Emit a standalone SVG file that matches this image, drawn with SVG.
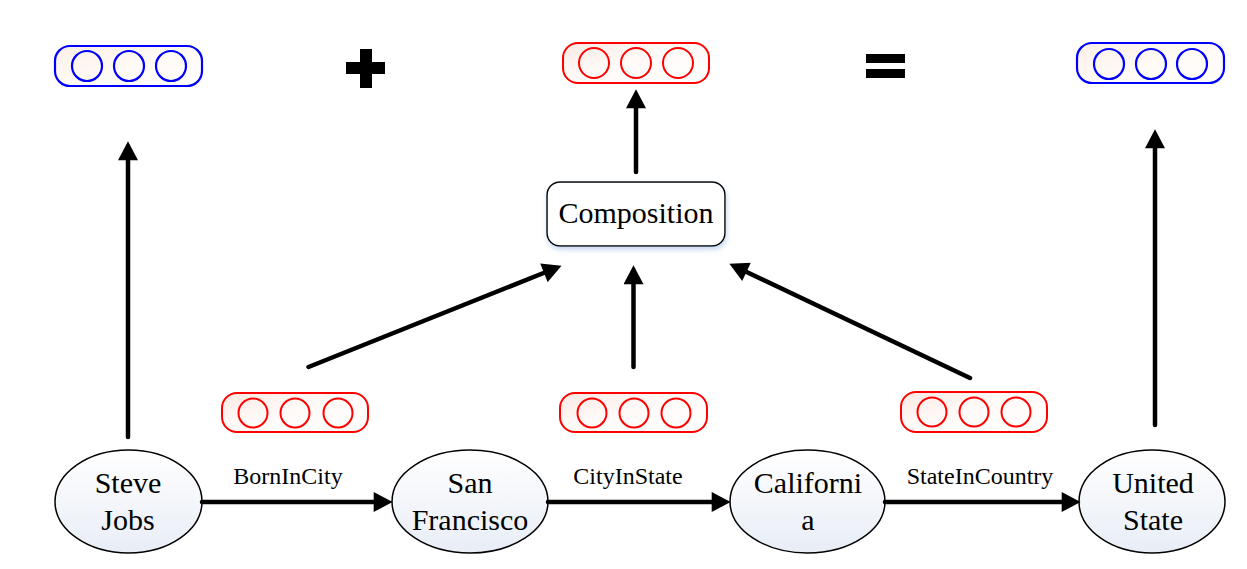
<svg xmlns="http://www.w3.org/2000/svg" width="1247" height="569" viewBox="0 0 1247 569">
<defs>
  <linearGradient id="gBox" x1="0" y1="0" x2="1" y2="1">
    <stop offset="0" stop-color="#fbe9e3"/>
    <stop offset="0.45" stop-color="#fffaf8"/>
    <stop offset="1" stop-color="#ffffff"/>
  </linearGradient>
  <linearGradient id="gBlue" x1="0" y1="0" x2="1" y2="1">
    <stop offset="0" stop-color="#fbefe6"/>
    <stop offset="0.5" stop-color="#fffaf5"/>
    <stop offset="1" stop-color="#ffffff"/>
  </linearGradient>
  <linearGradient id="gEll" x1="0" y1="0" x2="0" y2="1">
    <stop offset="0" stop-color="#ffffff"/>
    <stop offset="1" stop-color="#e8edf6"/>
  </linearGradient>
  <filter id="shadow" x="-10%" y="-10%" width="125%" height="140%">
    <feDropShadow dx="1" dy="3" stdDeviation="2.5" flood-color="#8fb0e0" flood-opacity="0.5"/>
  </filter>
  <marker id="arr" markerUnits="userSpaceOnUse" markerWidth="20" markerHeight="20" viewBox="0 0 18 19" refX="6" refY="9.5" orient="auto">
    <path d="M0,0 L18,9.5 L0,19 z" fill="#000"/>
  </marker>
</defs>
<style>
  .blue { fill: url(#gBlue); stroke: #0000ff; stroke-width: 2.2; }
  .red { fill: url(#gBox); stroke: #ff0000; stroke-width: 2; }
  .redc { fill: none; stroke: #ff0000; stroke-width: 2; }
  .bluec { fill: none; stroke: #0000ff; stroke-width: 2.2; }
  .ell { fill: url(#gEll); stroke: #000; stroke-width: 1.5; }
  .lbl { font-family: "Liberation Serif", "Times New Roman", serif; font-size: 30px; fill: #000; text-anchor: middle; }
  .elbl { font-family: "Liberation Serif", "Times New Roman", serif; font-size: 24px; fill: #000; text-anchor: middle; }
  .edge { stroke: #000; stroke-width: 4.5; stroke-linecap: round; fill: none; marker-end: url(#arr); }
</style>

<!-- top vectors -->
<g id="vec-top-left">
  <rect class="blue" x="55" y="46" width="147" height="40" rx="15"/>
  <circle class="bluec" cx="87" cy="66" r="15"/>
  <circle class="bluec" cx="129" cy="66" r="15"/>
  <circle class="bluec" cx="171" cy="66" r="15"/>
</g>
<g id="plus">
  <rect x="346" y="62" width="39" height="12" fill="#000"/>
  <rect x="360" y="49" width="12" height="39" fill="#000"/>
</g>
<g id="vec-top-mid">
  <rect class="red" x="563" y="43" width="146" height="40" rx="15"/>
  <circle class="redc" cx="594" cy="63" r="15"/>
  <circle class="redc" cx="636" cy="63" r="15"/>
  <circle class="redc" cx="678" cy="63" r="15"/>
</g>
<g id="equals">
  <rect x="866" y="54" width="39" height="9" fill="#000"/>
  <rect x="866" y="69" width="39" height="9" fill="#000"/>
</g>
<g id="vec-top-right">
  <rect class="blue" x="1077" y="43" width="147" height="40" rx="15"/>
  <circle class="bluec" cx="1109" cy="64" r="15"/>
  <circle class="bluec" cx="1151" cy="64" r="15"/>
  <circle class="bluec" cx="1192" cy="64" r="15"/>
</g>

<!-- composition -->
<g id="composition">
  <rect x="547" y="182" width="178" height="64" rx="13" fill="#ffffff" stroke="#000" stroke-width="1.5" filter="url(#shadow)"/>
  <text class="lbl" font-family="Liberation Serif, serif" x="636" y="223">Composition</text>
</g>

<!-- relation vectors -->
<g id="vec-rel-1">
  <rect class="red" x="222" y="393" width="146" height="39" rx="15"/>
  <circle class="redc" cx="253" cy="413" r="14.5"/>
  <circle class="redc" cx="295" cy="413" r="14.5"/>
  <circle class="redc" cx="338" cy="413" r="14.5"/>
</g>
<g id="vec-rel-2">
  <rect class="red" x="560" y="393" width="147" height="39" rx="15"/>
  <circle class="redc" cx="592" cy="413" r="14.5"/>
  <circle class="redc" cx="634" cy="413" r="14.5"/>
  <circle class="redc" cx="676" cy="413" r="14.5"/>
</g>
<g id="vec-rel-3">
  <rect class="red" x="901" y="392" width="146" height="40" rx="15"/>
  <circle class="redc" cx="932" cy="412" r="14.5"/>
  <circle class="redc" cx="974" cy="412" r="14.5"/>
  <circle class="redc" cx="1016" cy="412" r="14.5"/>
</g>

<!-- entity nodes -->
<g id="steve-jobs">
  <ellipse class="ell" cx="128.5" cy="501.5" rx="73.5" ry="51.5"/>
  <text class="lbl" x="128" y="493">Steve</text>
  <text class="lbl" x="128" y="530">Jobs</text>
</g>
<g id="san-francisco">
  <ellipse class="ell" cx="470" cy="501.5" rx="78" ry="51.5"/>
  <text class="lbl" x="470" y="493">San</text>
  <text class="lbl" x="470" y="530">Francisco</text>
</g>
<g id="california">
  <ellipse class="ell" cx="807.5" cy="501.5" rx="77.5" ry="51.5"/>
  <text class="lbl" x="808" y="493">Californi</text>
  <text class="lbl" x="808" y="530">a</text>
</g>
<g id="united-state">
  <ellipse class="ell" cx="1152" cy="501.5" rx="73" ry="51.5"/>
  <text class="lbl" x="1153" y="493">United</text>
  <text class="lbl" x="1153" y="530">State</text>
</g>

<!-- connectors -->
<g id="connectors">
  <line class="edge" x1="202" y1="502" x2="380" y2="502"/>
  <line class="edge" x1="548" y1="502" x2="718" y2="502"/>
  <line class="edge" x1="885" y1="502" x2="1068" y2="502"/>
  <line class="edge" x1="128" y1="437" x2="128" y2="154"/>
  <line class="edge" x1="1155" y1="425" x2="1155" y2="142"/>
  <line class="edge" x1="636" y1="172" x2="636" y2="102"/>
  <line class="edge" x1="633.5" y1="367" x2="633.5" y2="278"/>
  <line class="edge" x1="308.5" y1="367" x2="549.8" y2="270.5"/>
  <line class="edge" x1="970" y1="378" x2="740.8" y2="269.2"/>
</g>

<!-- edge labels -->
<g id="edge-labels">
  <text class="elbl" x="288" y="484">BornInCity</text>
  <text class="elbl" x="628" y="484">CityInState</text>
  <text class="elbl" x="980" y="484">StateInCountry</text>
</g>
</svg>
